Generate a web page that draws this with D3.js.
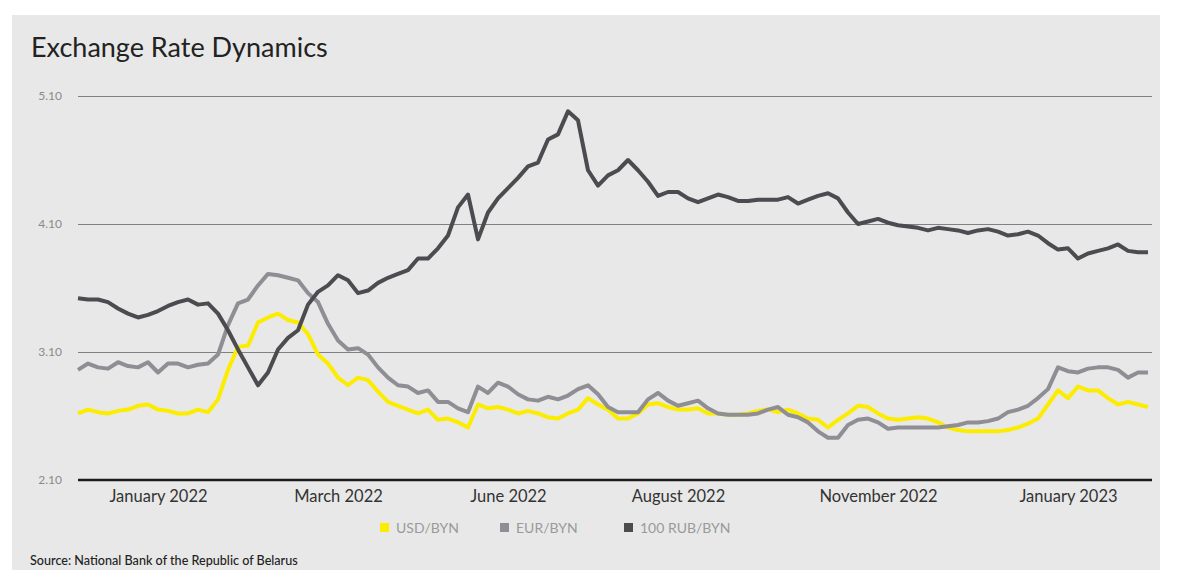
<!DOCTYPE html>
<html>
<head>
<meta charset="utf-8">
<script src="https://cdn.jsdelivr.net/npm/d3@7"></script>
<style>
  body { margin: 0; background: #fff; }
  svg { display: block; }
  text { font-family: Lato, "Open Sans", sans-serif; }
</style>
</head>
<body>
<div id="chart"></div>
<script>
// rates sampled along the chart, oldest first
var usd = [
  2.62,2.65,2.63,2.62,2.64,2.65,2.68,2.69,2.65,2.64,
  2.62,2.62,2.65,2.63,2.73,2.96,3.14,3.15,3.33,3.37,
  3.40,3.35,3.33,3.24,3.08,3.01,2.90,2.84,2.90,2.88,
  2.79,2.71,2.68,2.65,2.62,2.65,2.57,2.58,2.55,2.51,
  2.69,2.66,2.67,2.65,2.62,2.64,2.62,2.59,2.58,2.62,
  2.65,2.74,2.69,2.65,2.58,2.58,2.62,2.69,2.70,2.67,
  2.65,2.65,2.66,2.62,2.62,2.61,2.61,2.62,2.64,2.65,
  2.63,2.65,2.62,2.58,2.57,2.51,2.57,2.62,2.68,2.67,
  2.62,2.58,2.57,2.58,2.59,2.58,2.55,2.51,2.49,2.48,
  2.48,2.48,2.48,2.49,2.51,2.54,2.58,2.69,2.80,2.74,
  2.83,2.80,2.80,2.74,2.69,2.71,2.69,2.67
];
var eur = [
  2.96,3.01,2.98,2.97,3.02,2.99,2.98,3.02,2.94,3.01,
  3.01,2.98,3.00,3.01,3.08,3.31,3.48,3.51,3.62,3.71,
  3.70,3.68,3.66,3.56,3.49,3.32,3.19,3.12,3.13,3.08,
  2.98,2.90,2.84,2.83,2.78,2.80,2.71,2.71,2.66,2.63,
  2.83,2.78,2.86,2.83,2.77,2.73,2.72,2.75,2.73,2.76,
  2.81,2.84,2.77,2.67,2.63,2.63,2.63,2.73,2.78,2.72,
  2.68,2.70,2.72,2.66,2.62,2.61,2.61,2.61,2.62,2.65,
  2.67,2.61,2.59,2.55,2.48,2.43,2.43,2.53,2.57,2.58,
  2.55,2.50,2.51,2.51,2.51,2.51,2.51,2.52,2.53,2.55,
  2.55,2.56,2.58,2.63,2.65,2.68,2.74,2.81,2.98,2.95,
  2.94,2.97,2.98,2.98,2.96,2.90,2.94,2.94
];
var rub = [
  3.52,3.51,3.51,3.49,3.44,3.40,3.37,3.39,3.42,3.46,
  3.49,3.51,3.47,3.48,3.40,3.27,3.12,2.98,2.84,2.94,
  3.12,3.21,3.27,3.47,3.57,3.62,3.70,3.66,3.56,3.58,
  3.64,3.68,3.71,3.74,3.83,3.83,3.91,4.01,4.23,4.33,
  3.98,4.19,4.30,4.38,4.46,4.55,4.58,4.76,4.80,4.98,
  4.91,4.52,4.40,4.48,4.52,4.60,4.52,4.43,4.32,4.35,
  4.35,4.30,4.27,4.30,4.33,4.31,4.28,4.28,4.29,4.29,
  4.29,4.31,4.26,4.29,4.32,4.34,4.30,4.19,4.10,4.12,
  4.14,4.11,4.09,4.08,4.07,4.05,4.07,4.06,4.05,4.03,
  4.05,4.06,4.04,4.01,4.02,4.04,4.01,3.95,3.90,3.91,
  3.83,3.87,3.89,3.91,3.94,3.89,3.88,3.88
];
var seriesNames = ["USD/BYN", "EUR/BYN", "100 RUB/BYN"];
var xLabels = ["January 2022", "March 2022", "June 2022", "August 2022", "November 2022", "January 2023"];
var xLabelIdx = [8, 26, 43, 60, 80, 99];
var yTicks = [2.10, 3.10, 4.10, 5.10];

var W = 1179, H = 570;
var mLeft = 78, mRight = 1152, mTop = 96, mBottom = 480;
var colors = ["#fbec00", "#8e8e94", "#4b4b50"];

var svg = d3.select("#chart").append("svg")
    .attr("width", W)
    .attr("height", H);

svg.append("rect")
    .attr("x", 12).attr("y", 15)
    .attr("width", 1148).attr("height", H - 15)
    .attr("fill", "#e8e8e8");

svg.append("text")
    .attr("x", 31).attr("y", 57)
    .attr("font-size", "27px")
    .attr("fill", "#222")
    .text("Exchange Rate Dynamics");

var x = d3.scaleLinear().domain([0, usd.length - 1]).range([78, 1148]);
var y = d3.scaleLinear().domain([2.10, 5.10]).range([mBottom, mTop]);

var yAxis = svg.append("g")
    .attr("transform", "translate(" + mLeft + ",0)")
    .call(d3.axisLeft(y).tickValues(yTicks).tickFormat(d3.format(".2f")).tickSize(-(mRight - mLeft)).tickPadding(16));
yAxis.select(".domain").remove();
yAxis.selectAll(".tick line").attr("stroke", "#808080").attr("stroke-width", 1);
yAxis.selectAll(".tick text").attr("fill", "#8a8a8a").attr("font-size", "12px").attr("font-family", "Lato, sans-serif");

var xAxis = svg.append("g")
    .attr("transform", "translate(0," + mBottom + ")")
    .call(d3.axisBottom(x).tickValues(xLabelIdx).tickFormat(function (d, i) { return xLabels[i]; }).tickSize(0).tickPadding(10));
xAxis.select(".domain").remove();
xAxis.selectAll(".tick text").attr("fill", "#333").attr("font-size", "16.5px").attr("font-family", "Lato, sans-serif");

svg.append("line")
    .attr("x1", mLeft).attr("x2", mRight)
    .attr("y1", mBottom).attr("y2", mBottom)
    .attr("stroke", "#1a1a1a").attr("stroke-width", 2.5);

var line = d3.line()
    .x(function (d, i) { return x(i); })
    .y(function (d) { return y(d); });

[usd, eur, rub].forEach(function (s, k) {
    svg.append("path")
        .datum(s)
        .attr("d", line)
        .attr("fill", "none")
        .attr("stroke", colors[k])
        .attr("stroke-width", 4)
        .attr("stroke-linejoin", "round");
});

var legendX = [380, 500, 624];
var legend = svg.selectAll(".legend")
    .data(seriesNames)
    .enter()
    .append("g")
    .attr("transform", function (d, i) { return "translate(" + legendX[i] + ",528)"; });
legend.append("rect")
    .attr("x", 0).attr("y", -5)
    .attr("width", 9).attr("height", 9)
    .attr("fill", function (d, i) { return colors[i]; });
legend.append("text")
    .attr("x", 16).attr("y", 4.5)
    .attr("font-size", "14px")
    .attr("fill", "#9a9a9a")
    .text(function (d) { return d; });

svg.append("text")
    .attr("x", 30).attr("y", 565)
    .attr("font-size", "12.6px")
    .attr("font-weight", 500)
    .attr("fill", "#222")
    .text("Source: National Bank of the Republic of Belarus");
</script>
</body>
</html>
